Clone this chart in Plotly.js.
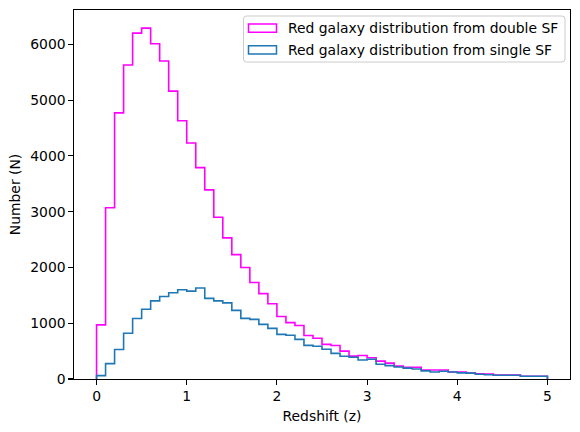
<!DOCTYPE html>
<html>
<head>
<meta charset="utf-8">
<script src="https://cdn.plot.ly/plotly-3.0.1.min.js"></script>
<style>
  html, body { margin: 0; padding: 0; background: #fff; }
  #chart { width: 580px; height: 432px; }
</style>
</head>
<body>
<div id="chart"></div>
<script>
// Histogram bins: 50 bins of width 0.1 spanning z = 0 .. 5
const BIN_START = 0;
const BIN_WIDTH = 0.1;

// Counts per bin, red galaxies selected with the double star-formation model
const doubleSF = [
  970, 3070, 4770, 5630, 6200, 6290, 6010, 5700, 5160, 4630,
  4230, 3790, 3390, 2900, 2530, 2230, 2000, 1730, 1530, 1350,
  1120, 1010, 960, 780, 730, 620, 600, 500, 410, 420,
  380, 320, 285, 230, 210, 210, 160, 160, 160, 125,
  125, 105, 95, 90, 70, 70, 70, 50, 50, 50
];

// Counts per bin, red galaxies selected with the single star-formation model
const singleSF = [
  60, 275, 530, 820, 1085, 1250, 1400, 1480, 1545, 1600,
  1575, 1630, 1445, 1400, 1365, 1230, 1087, 1069, 979, 908,
  800, 783, 711, 603, 586, 532, 460, 407, 390, 340,
  355, 265, 240, 215, 195, 180, 145, 125, 140, 125,
  110, 105, 85, 75, 68, 68, 68, 48, 48, 48
];

const seriesNames = [
  'Red galaxy distribution from double SF',
  'Red galaxy distribution from single SF'
];
const seriesColors = ['#ff00ff', '#1f77b4'];

const xTicks = [0, 1, 2, 3, 4, 5];
const yTicks = [0, 1000, 2000, 3000, 4000, 5000, 6000];

// Bin edges (n + 1 values)
const binEdges = [];
for (let i = 0; i <= doubleSF.length; i++) {
  binEdges.push(+(BIN_START + i * BIN_WIDTH).toFixed(10));
}

// Outline of an unfilled step histogram: rise at the first edge,
// step across each bin, drop at the last edge.
function stepOutline(counts) {
  const x = [binEdges[0]];
  const y = [0];
  counts.forEach((c, i) => { x.push(binEdges[i]); y.push(c); });
  x.push(binEdges[counts.length]);
  y.push(0);
  return { x, y };
}

const FONT = 'DejaVu Sans, Verdana, sans-serif';
const FS = 13.9;
const LW = 1.6;

const traces = [doubleSF, singleSF].map((counts, k) => {
  const o = stepOutline(counts);
  return {
    type: 'scatter', mode: 'lines',
    x: o.x, y: o.y,
    name: seriesNames[k],
    line: { shape: 'hv', color: seriesColors[k], width: LW },
    showlegend: false,
    hoverinfo: 'skip'
  };
});

// Plot area in pixels
const W = 580, H = 432;
const M = { l: 74, r: 10, t: 10, b: 53 };
const plotW = W - M.l - M.r, plotH = H - M.t - M.b;
const px2x = p => (p - M.l) / plotW;
const px2y = p => (H - M.b - p) / plotH;

// Legend box with rounded corners, drawn in paper coordinates
function roundedRectPath(x0, y0, x1, y1, r) {
  const P = (px, py) => px2x(px) + ',' + px2y(py);
  return 'M' + P(x0 + r, y0) +
    ' L' + P(x1 - r, y0) + ' Q' + P(x1, y0) + ' ' + P(x1, y0 + r) +
    ' L' + P(x1, y1 - r) + ' Q' + P(x1, y1) + ' ' + P(x1 - r, y1) +
    ' L' + P(x0 + r, y1) + ' Q' + P(x0, y1) + ' ' + P(x0, y1 - r) +
    ' L' + P(x0, y0 + r) + ' Q' + P(x0, y0) + ' ' + P(x0 + r, y0) + ' Z';
}

const legendBox = { x0: 243.5, y0: 16, x1: 565, y1: 62 };
const rowCenters = [28.2, 49.8];
const patch = { x0: 248.5, x1: 276.5, h: 8.3 };
const textX = 287.5;

const shapes = [{
  type: 'path', xref: 'paper', yref: 'paper',
  path: roundedRectPath(legendBox.x0, legendBox.y0, legendBox.x1, legendBox.y1, 3),
  fillcolor: 'rgba(255,255,255,0.8)',
  line: { color: '#cccccc', width: 1 }
}];
const annotations = [];
seriesNames.forEach((name, k) => {
  const cy = rowCenters[k];
  shapes.push({
    type: 'rect', xref: 'paper', yref: 'paper',
    x0: px2x(patch.x0), x1: px2x(patch.x1),
    y0: px2y(cy + patch.h / 2), y1: px2y(cy - patch.h / 2),
    fillcolor: 'rgba(0,0,0,0)',
    line: { color: seriesColors[k], width: 1.5 }
  });
  annotations.push({
    xref: 'paper', yref: 'paper',
    x: px2x(textX), y: px2y(cy),
    xanchor: 'left', yanchor: 'middle',
    text: name, showarrow: false,
    borderpad: 0, borderwidth: 0,
    font: { family: FONT, size: FS, color: '#000' }
  });
});

const axisCommon = {
  showline: true, mirror: true, linecolor: '#000', linewidth: 1.1,
  ticks: 'outside', ticklen: 4.5, tickwidth: 1.1, tickcolor: '#000',
  showgrid: false, zeroline: false,
  tickfont: { family: FONT, size: FS, color: '#000' },
  tickmode: 'array'
};

const layout = {
  width: W, height: H,
  margin: M,
  paper_bgcolor: '#fff', plot_bgcolor: '#fff',
  font: { family: FONT, size: FS, color: '#000' },
  showlegend: false,
  xaxis: Object.assign({}, axisCommon, {
    range: [-0.25, 5.25],
    tickvals: xTicks, ticktext: xTicks.map(String),
    title: { text: 'Redshift (z)', font: { family: FONT, size: FS, color: '#000' }, standoff: 8 }
  }),
  yaxis: Object.assign({}, axisCommon, {
    range: [0, 6615],
    tickvals: yTicks, ticktext: yTicks.map(String),
    title: { text: 'Number (N)', font: { family: FONT, size: FS, color: '#000' }, standoff: 6 }
  }),
  shapes: shapes,
  annotations: annotations
};

Plotly.newPlot('chart', traces, layout, { displayModeBar: false, staticPlot: true });
</script>
</body>
</html>
